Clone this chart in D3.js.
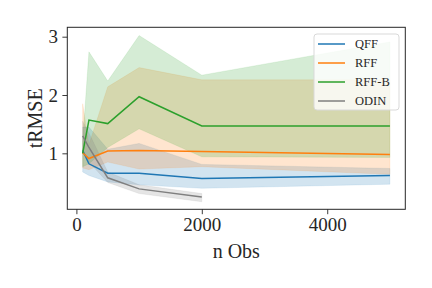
<!DOCTYPE html>
<html>
<head>
<meta charset="utf-8">
<script src="https://cdn.jsdelivr.net/npm/d3@7"></script>
<style>
  body { margin: 0; background: #fff; }
  text { font-family: "Liberation Serif", "DejaVu Serif", serif; }
</style>
</head>
<body>
<div id="chart"></div>
<script>
// x positions (number of observations)
var nObs = [100, 200, 500, 1000, 2000, 5000];
var nObsOdin = [100, 200, 500, 1000, 2000];

// mean tRMSE and band (lower / upper) per method
var qffMean  = [1.05, 0.82, 0.66, 0.66, 0.57, 0.62];
var qffLow   = [0.68, 0.62, 0.51, 0.46, 0.40, 0.47];
var qffHigh  = [1.45, 1.45, 1.07, 1.17, 0.81, 0.74];

var rffMean  = [1.01, 0.91, 1.04, 1.05, 1.03, 0.98];
var rffLow   = [0.75, 0.72, 0.85, 0.73, 0.77, 0.64];
var rffHigh  = [1.85, 1.15, 2.14, 2.47, 2.26, 2.26];

var rffbMean = [1.00, 1.57, 1.51, 1.97, 1.47, 1.47];
var rffbLow  = [0.77, 0.82, 1.10, 1.42, 0.94, 0.93];
var rffbHigh = [1.20, 2.74, 2.24, 3.02, 2.34, 2.91];

var odinMean = [1.30, 1.10, 0.58, 0.39, 0.25];
var odinLow  = [1.05, 0.85, 0.50, 0.31, 0.17];
var odinHigh = [1.55, 1.35, 0.68, 0.46, 0.31];

var xTicks = [0, 2000, 4000];
var yTicks = [1, 2, 3];
var labels = ["QFF", "RFF", "RFF-B", "ODIN"];
var colors = ["#1f77b4", "#ff7f0e", "#2ca02c", "#7f7f7f"];

var svgWidth = 432, svgHeight = 288;
var margin = { top: 27.3, right: 26.7, bottom: 78.7, left: 67.3 };
var width = svgWidth - margin.left - margin.right;
var height = svgHeight - margin.top - margin.bottom;

var svg = d3.select("#chart").append("svg")
    .attr("width", svgWidth)
    .attr("height", svgHeight);

var chartGroup = svg.append("g")
    .attr("transform", `translate(${margin.left}, ${margin.top})`);

var xScale = d3.scaleLinear().domain([-145, 5245]).range([0, width]);
var yScale = d3.scaleLinear().domain([0.04, 3.161]).range([height, 0]);

// build series rows from the arrays
function rows(xs, mean, low, high) {
    return xs.map(function (x, i) {
        return { x: x, mean: mean[i], low: low[i], high: high[i] };
    });
}
var series = [
    rows(nObs, qffMean, qffLow, qffHigh),
    rows(nObs, rffMean, rffLow, rffHigh),
    rows(nObs, rffbMean, rffbLow, rffbHigh),
    rows(nObsOdin, odinMean, odinLow, odinHigh)
];

var area = d3.area()
    .x(d => xScale(d.x))
    .y0(d => yScale(d.low))
    .y1(d => yScale(d.high));

var line = d3.line()
    .x(d => xScale(d.x))
    .y(d => yScale(d.mean));

// bands first, then lines
series.forEach(function (s, i) {
    chartGroup.append("path")
        .datum(s)
        .attr("d", area)
        .attr("fill", colors[i])
        .attr("fill-opacity", 0.2)
        .attr("stroke", colors[i])
        .attr("stroke-opacity", 0.2)
        .attr("stroke-width", 0.5);
});
series.forEach(function (s, i) {
    chartGroup.append("path")
        .datum(s)
        .attr("d", line)
        .attr("fill", "none")
        .attr("stroke", colors[i])
        .attr("stroke-width", 1.5);
});

// axes
var bottomAxis = d3.axisBottom(xScale).tickValues(xTicks)
    .tickFormat(d3.format("d")).tickSize(4.9).tickPadding(3.5);
var leftAxis = d3.axisLeft(yScale).tickValues(yTicks)
    .tickFormat(d3.format("d")).tickSize(4.9).tickPadding(4.5);

var xAxis = chartGroup.append("g")
    .attr("transform", `translate(0, ${height})`)
    .call(bottomAxis);
var yAxis = chartGroup.append("g").call(leftAxis);

[xAxis, yAxis].forEach(function (ax) {
    ax.select(".domain").remove();
    ax.selectAll("line").attr("stroke", "#262626").attr("stroke-width", 0.9);
    ax.selectAll("text")
        .attr("fill", "#262626")
        .style("font-family", "'Liberation Serif', serif")
        .style("font-size", "19px");
});

// frame
chartGroup.append("rect")
    .attr("width", width)
    .attr("height", height)
    .attr("fill", "none")
    .attr("stroke", "#262626")
    .attr("stroke-width", 1);

// axis labels
svg.append("text")
    .attr("x", margin.left + width / 2)
    .attr("y", 258.3)
    .attr("text-anchor", "middle")
    .attr("fill", "#262626")
    .style("font-size", "20px")
    .text("n Obs");

svg.append("text")
    .attr("transform", `translate(42, ${margin.top + height / 2}) rotate(-90)`)
    .attr("text-anchor", "middle")
    .attr("fill", "#262626")
    .style("font-size", "20px")
    .text("tRMSE");

// legend
var legend = svg.append("g").attr("transform", "translate(314, 34)");
legend.append("rect")
    .attr("width", 85)
    .attr("height", 76)
    .attr("rx", 3)
    .attr("fill", "#fff")
    .attr("fill-opacity", 0.8)
    .attr("stroke", "#d9d9d9")
    .attr("stroke-width", 1);

labels.forEach(function (name, i) {
    var yPos = 10 + i * 19;
    legend.append("line")
        .attr("x1", 4).attr("x2", 31)
        .attr("y1", yPos).attr("y2", yPos)
        .attr("stroke", colors[i])
        .attr("stroke-width", 1.5);
    legend.append("text")
        .attr("x", 41)
        .attr("y", yPos + 4.3)
        .attr("fill", "#262626")
        .style("font-size", "12.5px")
        .text(name);
});
</script>
</body>
</html>
